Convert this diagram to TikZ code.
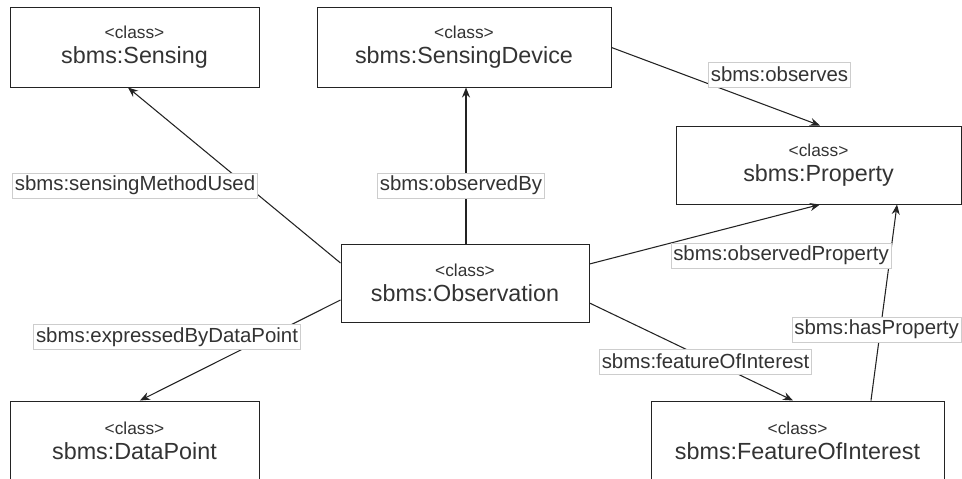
\documentclass[tikz,border=0pt]{standalone}
\usepackage{fontspec}
\setmainfont{Liberation Sans}
\usetikzlibrary{arrows.meta}
\definecolor{edgecol}{RGB}{35,35,35}
\definecolor{lblcol}{RGB}{205,205,205}
\newcommand{\clsname}[1]{{\fontsize{13}{14}\selectfont <class>}\\#1}

\begin{document}
\begin{tikzpicture}[x=0.75pt,y=-0.75pt,
  >={Stealth[length=7.5pt,width=6pt]}, line width=0.8pt,
  cls/.style={draw=edgecol,line width=0.75pt,align=center,text=black!80,
    font=\fontsize{17.5}{18.75}\selectfont,inner sep=0pt,minimum height=59.25pt},
  lbl/.style={draw=lblcol,fill=white,line width=0.5pt,text=black!80,
    font=\fontsize{15.3}{16}\selectfont,inner xsep=1.8pt,inner ysep=0pt,minimum height=18.75pt},
  rel/.style={->,draw=edgecol},
]
\useasboundingbox (0,0) rectangle (962,478);

% --- classes ---
\node[cls,minimum width=186.75pt] (sens) at (134.5,47.5) {\clsname{sbms:Sensing}};
\node[cls,minimum width=220.5pt]  (dev)  at (464,47.5)   {\clsname{sbms:SensingDevice}};
\node[cls,minimum width=213.75pt,minimum height=58.5pt] (prop) at (818.5,165) {\clsname{sbms:Property}};
\node[cls,minimum width=186pt,minimum height=58.5pt]    (obs)  at (465,283)   {\clsname{sbms:Observation}};
\node[cls,minimum width=186.75pt] (dp)   at (134.5,440.5) {\clsname{sbms:DataPoint}};
\node[cls,minimum width=219.75pt] (foi)  at (797.5,440.5) {\clsname{sbms:FeatureOfInterest}};

% --- relations ---
\draw[rel] ([yshift=15pt]obs.west) -- ([xshift=-4.9pt]sens.south);
\draw[rel] ([xshift=0.75pt]obs.north) -- ([xshift=0.75pt]obs.north |- dev.south);
\draw[rel] (dev.east) -- ([xshift=1.1pt]prop.north);
\draw[rel] ([yshift=14.25pt]obs.east) -- ([xshift=1.1pt]prop.south);
\draw[rel] ([yshift=-12.75pt]obs.west) -- ([xshift=4.1pt]dp.north);
\draw[rel] ([yshift=-15pt]obs.east) -- ([xshift=-3.4pt]foi.north);
\draw[rel] ([xshift=55.1pt]foi.north) -- ([xshift=58.9pt]prop.south);

% --- relation labels ---
\node[lbl] (smu)   at (135,185.5)   {sbms:sensingMethodUsed};
\node[lbl] (oby)   at (461,185.5)   {sbms:observedBy};
\node[lbl] (obsv)  at (779.5,74.5)  {sbms:observes};
\node[lbl] (oprop) at (781,255.5)   {sbms:observedProperty};
\node[lbl,anchor=east] (hasp) at (961.5,329.5) {sbms:hasProperty};
\node[lbl] (foil)  at (705.5,361.5) {sbms:featureOfInterest};
\node[lbl] (edp)   at (167,337)     {sbms:expressedByDataPoint};
\end{tikzpicture}
\end{document}
